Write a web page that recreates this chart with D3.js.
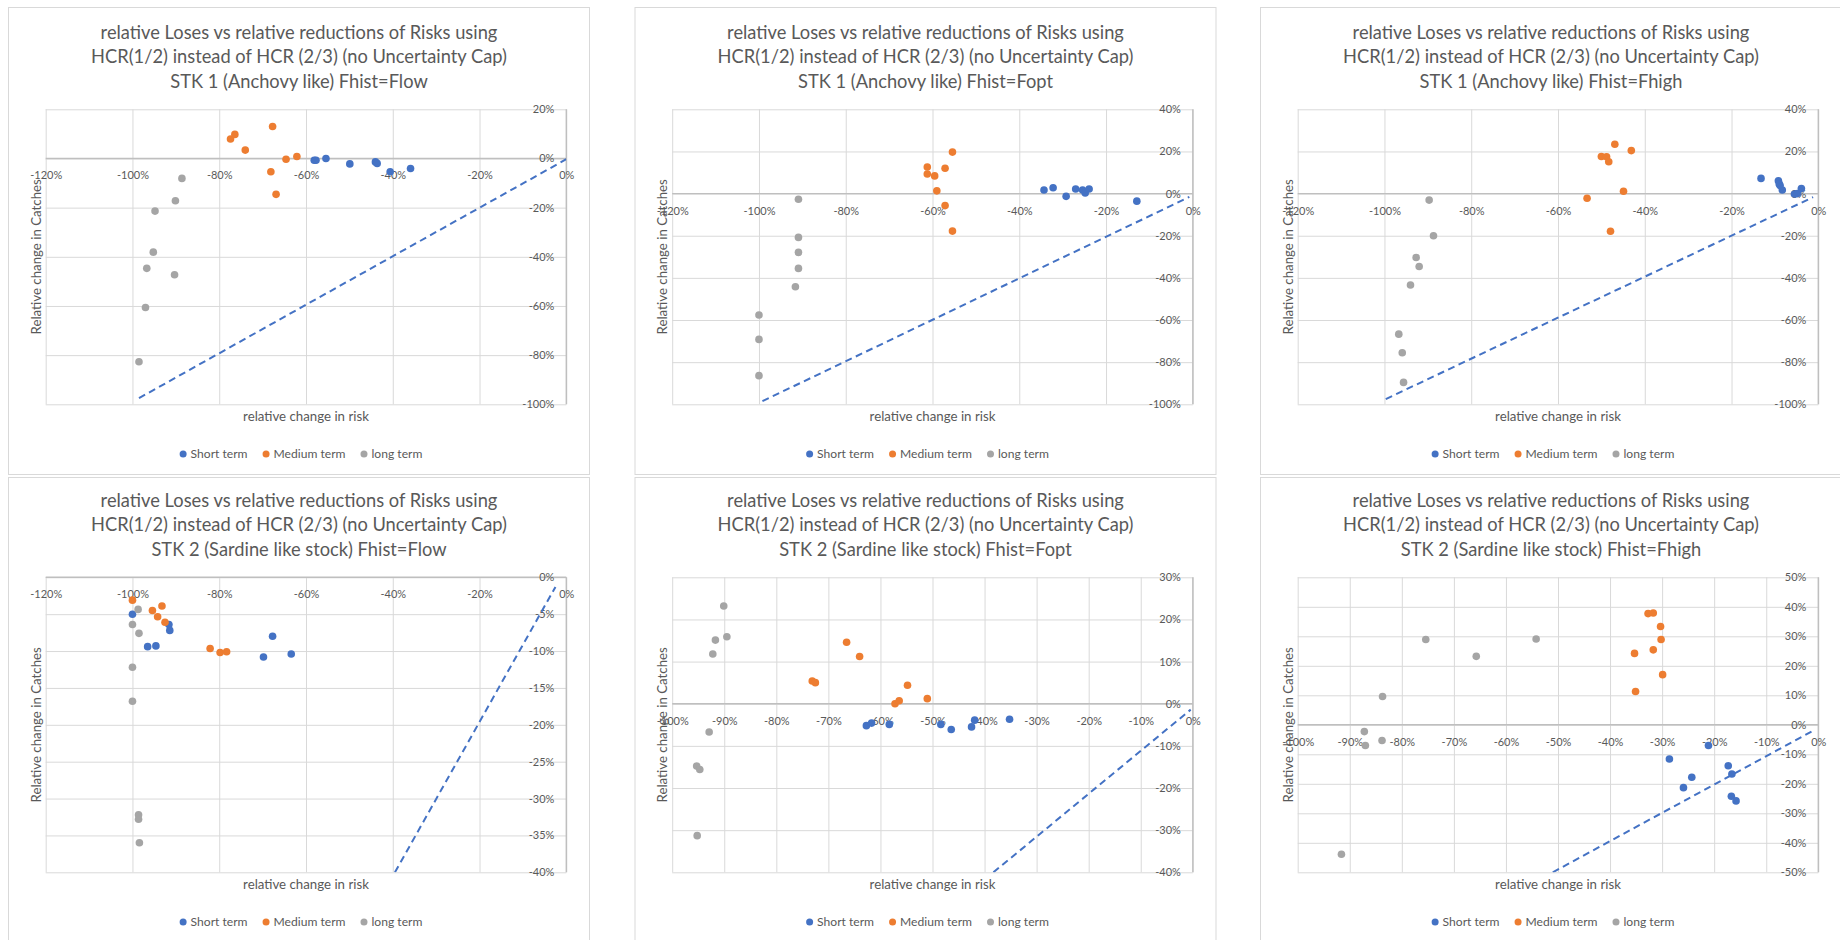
<!DOCTYPE html>
<html>
<head>
<meta charset="utf-8">
<script src="https://cdn.jsdelivr.net/npm/d3@7"></script>
<style>
  html, body { margin: 0; padding: 0; background: #ffffff; }
  svg { display: block; }
  text { font-family: Lato, "Open Sans", sans-serif; fill: #595959; }
</style>
</head>
<body>
<svg id="chart" width="1840" height="940"></svg>
<script>
// ---- text ----
const seriesNames = ["Short term", "Medium term", "long term"];
const titleLine1 = "relative Loses vs relative reductions of Risks using";
const titleLine2 = "HCR(1/2) instead of HCR (2/3) (no Uncertainty Cap)";
const panelSubtitles = [
  "STK 1 (Anchovy like) Fhist=Flow",
  "STK 1 (Anchovy like) Fhist=Fopt",
  "STK 1 (Anchovy like) Fhist=Fhigh",
  "STK 2 (Sardine like stock) Fhist=Flow",
  "STK 2 (Sardine like stock) Fhist=Fopt",
  "STK 2 (Sardine like stock) Fhist=Fhigh"
];
const xAxisTitle = "relative change in risk";
const yAxisTitle = "Relative change in Catches";

// ---- tick values (percent) ----
const xTicksWide = [-120, -100, -80, -60, -40, -20, 0];
const xTicksNarrow = [-100, -90, -80, -70, -60, -50, -40, -30, -20, -10, 0];
const yTicksStk1Flow = [20, 0, -20, -40, -60, -80, -100];
const yTicksStk1 = [40, 20, 0, -20, -40, -60, -80, -100];
const yTicksStk2Flow = [0, -5, -10, -15, -20, -25, -30, -35, -40];
const yTicksStk2Fopt = [30, 20, 10, 0, -10, -20, -30, -40];
const yTicksStk2Fhigh = [50, 40, 30, 20, 10, 0, -10, -20, -30, -40, -50];

// ---- points: [relative change in risk %, relative change in catches %] ----
const stk1FlowShort = [[-58.1, -0.7], [-57.7, -0.7], [-55.4, 0], [-49.9, -2.2], [-44.0, -1.4], [-43.6, -2.0], [-40.6, -5.4], [-35.9, -4.1]];
const stk1FlowMedium = [[-77.4, 7.9], [-76.4, 9.8], [-74.0, 3.4], [-67.7, 13.0], [-64.6, -0.3], [-62.1, 0.8], [-68.1, -5.4], [-66.9, -14.6]];
const stk1FlowLong = [[-88.6, -8.1], [-90.1, -17.2], [-94.8, -21.4], [-95.2, -38.1], [-96.7, -44.7], [-90.3, -47.3], [-97.0, -60.6], [-98.5, -82.7]];
const stk1FlowDiagonal = [[-98.5, -97.5], [0, -0.3]];

const stk1FoptShort = [[-34.3, 1.7], [-32.2, 2.8], [-29.2, -1.3], [-27.0, 2.2], [-25.4, 1.7], [-24.8, 0.3], [-23.9, 2.2], [-12.9, -3.6]];
const stk1FoptMedium = [[-61.2, 12.6], [-61.2, 9.3], [-59.5, 8.4], [-57.1, 12.0], [-55.4, 19.7], [-59.0, 1.3], [-57.1, -5.7], [-55.4, -17.8]];
const stk1FoptLong = [[-90.9, -2.7], [-90.9, -20.8], [-90.9, -27.9], [-90.9, -35.5], [-91.6, -44.2], [-100, -57.6], [-100, -69.2], [-100, -86.4]];
const stk1FoptDiagonal = [[-99.2, -98.5], [-0.8, -1.6]];

const stk1FhighShort = [[-13.2, 7.2], [-9.2, 6.1], [-9.0, 4.6], [-8.8, 3.8], [-8.3, 1.7], [-5.5, -0.2], [-4.8, 0], [-3.9, 2.4]];
const stk1FhighMedium = [[-46.9, 23.4], [-43.1, 20.4], [-50.0, 17.6], [-48.8, 17.5], [-48.3, 15.1], [-44.9, 1.1], [-53.3, -2.2], [-47.9, -17.9]];
const stk1FhighLong = [[-89.7, -3.1], [-88.7, -20.0], [-92.7, -30.3], [-92.0, -34.6], [-94.0, -43.4], [-96.7, -66.7], [-95.9, -75.5], [-95.6, -89.6]];
const stk1FhighDiagonal = [[-99.7, -97.5], [-1.2, -1.7]];

const stk2FlowShort = [[-100, -5.0], [-91.6, -6.4], [-91.4, -7.2], [-96.5, -9.4], [-94.6, -9.3], [-67.7, -8.0], [-69.8, -10.8], [-63.4, -10.4]];
const stk2FlowMedium = [[-100, -3.1], [-95.4, -4.5], [-93.2, -3.9], [-94.2, -5.35], [-92.5, -6.1], [-82.1, -9.65], [-79.8, -10.2], [-78.3, -10.1]];
const stk2FlowLong = [[-98.7, -4.35], [-100, -6.4], [-98.5, -7.6], [-100, -12.2], [-100, -16.8], [-98.6, -32.2], [-98.6, -32.8], [-98.4, -36.0]];
const stk2FlowDiagonal = [[-39.5, -40], [-2.5, -1.3]];

const stk2FoptShort = [[-62.7, -5.2], [-61.7, -4.6], [-58.3, -4.9], [-48.4, -4.9], [-46.4, -6.1], [-42.5, -5.5], [-41.9, -3.9], [-35.2, -3.7]];
const stk2FoptMedium = [[-73.1, 5.4], [-72.5, 5.0], [-66.5, 14.6], [-64.0, 11.2], [-54.8, 4.4], [-51.0, 1.2], [-57.2, 0], [-56.4, 0.7]];
const stk2FoptLong = [[-90.1, 23.2], [-89.5, 15.9], [-91.7, 15.1], [-92.2, 11.8], [-92.9, -6.7], [-95.3, -14.8], [-94.7, -15.6], [-95.2, -31.3]];
const stk2FoptDiagonal = [[-38.3, -40], [-0.4, -1.4]];

const stk2FhighShort = [[-28.6, -11.6], [-21.1, -7.0], [-25.9, -21.3], [-24.3, -17.8], [-17.3, -13.9], [-16.6, -16.7], [-16.7, -24.2], [-15.8, -25.8]];
const stk2FhighMedium = [[-32.7, 37.7], [-31.7, 37.9], [-30.3, 33.3], [-30.2, 28.9], [-31.7, 25.4], [-35.3, 24.2], [-29.9, 17.0], [-35.1, 11.3]];
const stk2FhighLong = [[-75.4, 28.9], [-65.7, 23.2], [-54.2, 29.1], [-83.7, 9.6], [-87.2, -2.3], [-87.0, -7.0], [-83.8, -5.3], [-91.6, -43.9]];
const stk2FhighDiagonal = [[-51, -50], [-0.9, -1.9]];

// ---- panel definitions ----
const panels = [
  { subtitle: panelSubtitles[0], xTicks: xTicksWide, yTicks: yTicksStk1Flow, series: [stk1FlowShort, stk1FlowMedium, stk1FlowLong], diagonal: stk1FlowDiagonal },
  { subtitle: panelSubtitles[1], xTicks: xTicksWide, yTicks: yTicksStk1, series: [stk1FoptShort, stk1FoptMedium, stk1FoptLong], diagonal: stk1FoptDiagonal },
  { subtitle: panelSubtitles[2], xTicks: xTicksWide, yTicks: yTicksStk1, series: [stk1FhighShort, stk1FhighMedium, stk1FhighLong], diagonal: stk1FhighDiagonal },
  { subtitle: panelSubtitles[3], xTicks: xTicksWide, yTicks: yTicksStk2Flow, series: [stk2FlowShort, stk2FlowMedium, stk2FlowLong], diagonal: stk2FlowDiagonal },
  { subtitle: panelSubtitles[4], xTicks: xTicksNarrow, yTicks: yTicksStk2Fopt, series: [stk2FoptShort, stk2FoptMedium, stk2FoptLong], diagonal: stk2FoptDiagonal },
  { subtitle: panelSubtitles[5], xTicks: xTicksNarrow, yTicks: yTicksStk2Fhigh, series: [stk2FhighShort, stk2FhighMedium, stk2FhighLong], diagonal: stk2FhighDiagonal }
];

// ---- style ----
const seriesColors = ["#4472C4", "#ED7D31", "#A5A5A5"];
const diagonalColor = "#4472C4";
const gridColor = "#d9d9d9";
const axisColor = "#bfbfbf";

// ---- layout ----
const panelWidth = 581;
const panelBoxes = [
  { left: 8, top: 7, borderTop: 7, borderHeight: 467 },
  { left: 634.5, top: 7, borderTop: 7, borderHeight: 467 },
  { left: 1260, top: 7, borderTop: 7, borderHeight: 467 },
  { left: 8, top: 475, borderTop: 477, borderHeight: 480 },
  { left: 634.5, top: 475, borderTop: 477, borderHeight: 480 },
  { left: 1260, top: 475, borderTop: 477, borderHeight: 480 }
];

const svg = d3.select("#chart");
const defs = svg.append("defs");

// pick a font size so that a sample string spans the wanted width
function fitSize(sample, width, base) {
  const t = svg.append("text").style("font-size", base + "px").text(sample);
  const w = t.node().getComputedTextLength();
  t.remove();
  return w > 0 ? base * width / w : base;
}
const titleSize = fitSize(titleLine1, 397, 17);
const tickSize = fitSize("-100%", 32, 11);
const axisTitleSize = fitSize(xAxisTitle, 126, 12.5);
const legendSize = fitSize("Medium term", 72, 11.5);

panels.forEach((p, i) => {
  const box = panelBoxes[i];
  const g = svg.append("g");

  g.append("rect")
    .attr("x", box.left + 0.5).attr("y", box.borderTop + 0.5)
    .attr("width", panelWidth).attr("height", box.borderHeight)
    .attr("fill", "#fff").attr("stroke", gridColor).attr("stroke-width", 1);

  // title
  const titleX = box.left + 291;
  [titleLine1, titleLine2, p.subtitle].forEach((t, k) => {
    g.append("text")
      .attr("x", titleX).attr("y", box.top + 25 + 24.5 * k + titleSize * 0.36)
      .attr("text-anchor", "middle")
      .style("font-size", titleSize + "px")
      .text(t);
  });

  const x0 = box.left + 37.7, x1 = x0 + 520.6;
  const y0 = box.top + 102.3, y1 = box.top + 397.3;
  const x = d3.scaleLinear().domain(d3.extent(p.xTicks)).range([x0, x1]);
  const y = d3.scaleLinear().domain(d3.extent(p.yTicks)).range([y1, y0]);

  // gridlines
  const gridX = g.append("g").attr("transform", `translate(0,${y1})`)
    .call(d3.axisBottom(x).tickValues(p.xTicks).tickSize(-(y1 - y0)).tickFormat(""));
  const gridY = g.append("g").attr("transform", `translate(${x0},0)`)
    .call(d3.axisLeft(y).tickValues(p.yTicks).tickSize(-(x1 - x0)).tickFormat(""));
  [gridX, gridY].forEach(a => {
    a.select(".domain").remove();
    a.selectAll(".tick line").attr("stroke", gridColor).attr("stroke-width", 1);
  });

  // axis lines through zero
  g.append("line")
    .attr("x1", x0).attr("x2", x1).attr("y1", y(0)).attr("y2", y(0))
    .attr("stroke", axisColor).attr("stroke-width", 1.4);
  g.append("line")
    .attr("x1", x(0)).attr("x2", x(0)).attr("y1", y0).attr("y2", y1)
    .attr("stroke", axisColor).attr("stroke-width", 1.4);

  // tick labels
  const xLab = g.append("g").attr("transform", `translate(0,${y(0)})`)
    .call(d3.axisBottom(x).tickValues(p.xTicks).tickSize(0).tickPadding(21 - tickSize * 0.71).tickFormat(d => d + "%"));
  const yLab = g.append("g").attr("transform", `translate(${x(0)},0)`)
    .call(d3.axisLeft(y).tickValues(p.yTicks).tickSize(0).tickPadding(12).tickFormat(d => d + "%"));
  [xLab, yLab].forEach(a => {
    a.select(".domain").remove();
    a.selectAll("text").attr("fill", "#595959").style("font-size", tickSize + "px").style("font-family", "Lato, 'Open Sans', sans-serif");
  });

  // axis titles
  g.append("text")
    .attr("x", (x0 + x1) / 2).attr("y", box.top + 409 + axisTitleSize * 0.36)
    .attr("text-anchor", "middle").style("font-size", axisTitleSize + "px")
    .text(xAxisTitle);
  g.append("text")
    .attr("transform", `translate(${box.left + 28 + axisTitleSize * 0.36},${(y0 + y1) / 2}) rotate(-90)`)
    .attr("text-anchor", "middle").style("font-size", axisTitleSize + "px")
    .text(yAxisTitle);

  // plot clip
  const clipId = "clip" + i;
  defs.append("clipPath").attr("id", clipId)
    .append("rect").attr("x", x0).attr("y", y0).attr("width", x1 - x0).attr("height", y1 - y0);

  // reference diagonal
  g.append("path")
    .datum(p.diagonal)
    .attr("clip-path", `url(#${clipId})`)
    .attr("d", d3.line().x(d => x(d[0])).y(d => y(d[1])))
    .attr("fill", "none").attr("stroke", diagonalColor)
    .attr("stroke-width", 2).attr("stroke-dasharray", "7 4.5");

  // points
  p.series.forEach((pts, s) => {
    g.append("g").selectAll("circle")
      .data(pts).join("circle")
      .attr("cx", d => x(d[0])).attr("cy", d => y(d[1]))
      .attr("r", 3.8).attr("fill", seriesColors[s]);
  });

  // legend
  const legend = g.append("g");
  let cursor = 0;
  seriesNames.forEach((name, s) => {
    const item = legend.append("g").attr("transform", `translate(${cursor},0)`);
    item.append("circle").attr("cx", 3.5).attr("cy", 0).attr("r", 3.5).attr("fill", seriesColors[s]);
    const t = item.append("text").attr("x", 11).attr("y", legendSize * 0.36)
      .style("font-size", legendSize + "px").text(name);
    cursor += 11 + t.node().getComputedTextLength() + 15;
  });
  const legendWidth = cursor - 15;
  legend.attr("transform", `translate(${box.left + 293 - legendWidth / 2},${box.top + 447})`);
});
</script>
</body>
</html>
